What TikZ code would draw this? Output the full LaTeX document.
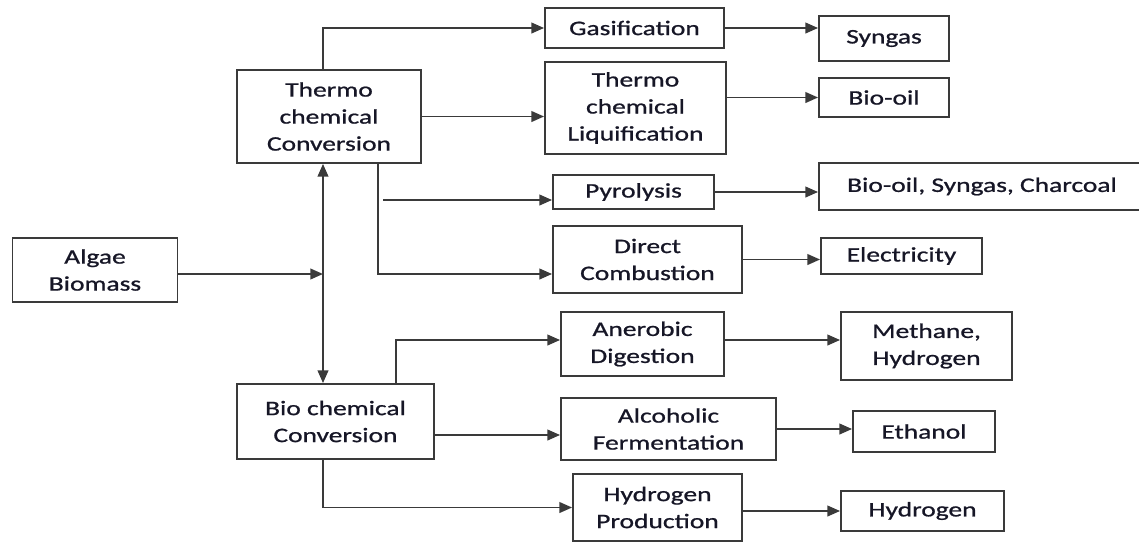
\documentclass[tikz,border=0pt]{standalone}
\usepackage{fontspec}
\setmainfont{Carlito}[FakeStretch=1.33,FakeBold=0.9]
\usetikzlibrary{arrows.meta}
\definecolor{lineGray}{RGB}{58,58,58}
\definecolor{txtInk}{RGB}{22,22,38}
\tikzset{
  box/.style 2 args={draw=lineGray, line width=1.4pt, align=center, inner sep=0pt,
    text=txtInk, font=\fontsize{15.5}{20.25}\selectfont,
    minimum width=#1*0.75pt, minimum height=#2*0.75pt},
  arr/.style={draw=lineGray, line width=1.4pt, -{Triangle[length=9.5pt,width=8pt]}},
  darr/.style={draw=lineGray, line width=1.4pt,
    {Triangle[length=9.5pt,width=8pt]}-{Triangle[length=9.5pt,width=8pt]}}
}
\begin{document}
\begin{tikzpicture}[x=0.75pt,y=0.75pt,yscale=-1,xscale=1]
%set diagram left start at 0, and has height of 544
\clip (0,0) rectangle (1139,544);

%Boxes: source and the two conversion routes
\node[box={165}{64}] (algae) at (95,270) {Algae\\Biomass};
\node[box={184}{93}] (tcc) at (329,116.5) {Thermo\\chemical\\Conversion};
\node[box={197}{75}] (bcc) at (335.5,421.5) {Bio chemical\\Conversion};

%Boxes: processes
\node[box={179}{40}] (gasif) at (634.5,28) {Gasification};
\node[box={181}{92}] (tcl) at (635.5,108) {Thermo\\chemical\\Liquification};
\node[box={161}{34}] (pyro) at (633.5,192) {Pyrolysis};
\node[box={189}{67}] (dcomb) at (647.5,259.5) {Direct\\Combustion};
\node[box={163}{64}] (anaer) at (642.5,344) {Anerobic\\Digestion};
\node[box={215}{62}] (alco) at (668.5,429) {Alcoholic\\Fermentation};
\node[box={169}{67}] (hprod) at (657.5,507.5) {Hydrogen\\Production};

%Boxes: products
\node[box={130}{45}] (syngas) at (884,38.5) {Syngas};
\node[box={130}{39}] (biooil) at (884,97.5) {Bio-oil};
\node[box={326}{47}] (mixed) at (982,186.5) {Bio-oil, Syngas, Charcoal};
\node[box={161}{36}] (elec) at (901.5,256) {Electricity};
\node[box={171}{68}] (meth) at (926.5,346) {Methane,\\Hydrogen};
\node[box={142}{41}] (eth) at (924,431.5) {Ethanol};
\node[box={163}{40}] (hydro) at (922.5,511) {Hydrogen};

%Bend points
\coordinate (hub) at (323,274);
\coordinate (tdrop) at (378,274);
\coordinate (pyin) at (383,200);
\coordinate (brise) at (396,340);
\coordinate (bout) at (434,435);

%Straight Lines: feed and routes
\draw[arr] (algae.east |- hub) -- (hub);
\draw[darr] (tcc.south -| hub) -- (bcc.north -| hub);
\draw[arr] (tcc.north -| hub) |- (gasif.west);
\draw[arr] (tcc.east) -- (tcc.east -| tcl.west);
\draw[arr] (tcc.south -| tdrop) |- (dcomb.west |- tdrop);
\draw[arr] (pyin) -- (pyin -| pyro.west);
\draw[arr] (bcc.north -| brise) |- (anaer.west |- brise);
\draw[arr] (bcc.east |- bout) -- (bout -| alco.west);
\draw[arr] (bcc.south -| hub) |- (hprod.west);

%Straight Lines: processes to products
\draw[arr] (gasif.east) -- (gasif.east -| syngas.west);
\draw[arr] (tcl.east |- biooil) -- (biooil.west);
\draw[arr] (pyro.east) -- (pyro.east -| mixed.west);
\draw[arr] (dcomb.east) -- (dcomb.east -| elec.west);
\draw[arr] (anaer.east |- brise) -- (meth.west |- brise);
\draw[arr] (alco.east) -- (alco.east -| eth.west);
\draw[arr] (hprod.east |- hydro) -- (hydro.west);

\end{tikzpicture}
\end{document}
